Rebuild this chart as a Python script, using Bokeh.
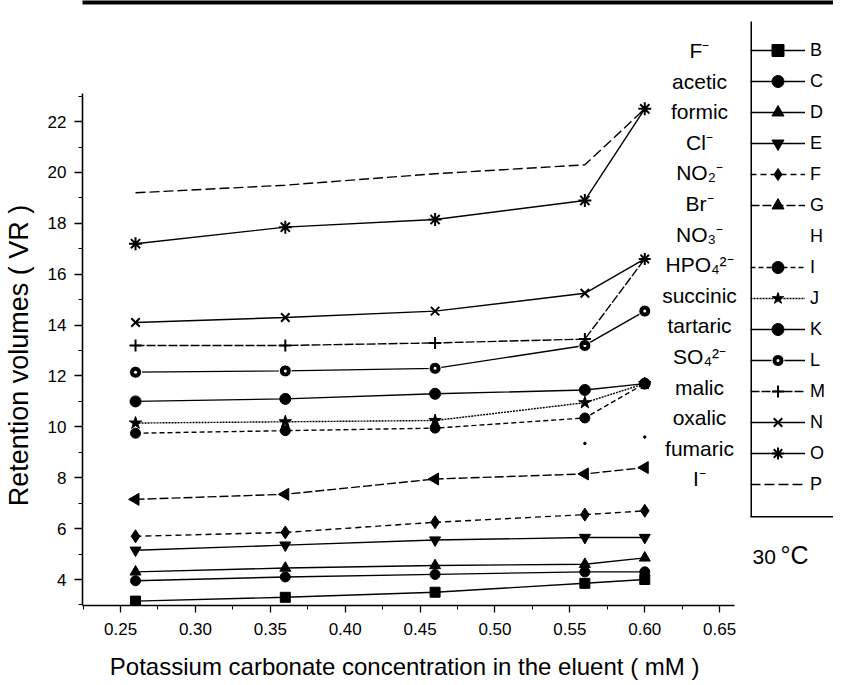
import math
from bokeh.plotting import figure
from bokeh.models import (Range1d, Legend, LegendItem, Label, FixedTicker,
                          NumeralTickFormatter, BoxAnnotation)
from bokeh.embed import file_html
from bokeh.resources import INLINE

# ---------------- data ----------------
conc = [0.26, 0.36, 0.46, 0.56, 0.60]
nan = float("nan")

B_vals = [3.15, 3.30, 3.50, 3.85, 4.00]
C_vals = [3.95, 4.10, 4.20, 4.30, 4.30]
D_vals = [4.30, 4.45, 4.55, 4.60, 4.85]
E_vals = [5.15, 5.35, 5.55, 5.65, 5.65]
F_vals = [5.70, 5.85, 6.25, 6.55, 6.70]
G_vals = [7.15, 7.35, 7.95, 8.15, 8.40]
H_vals = [nan, nan, nan, 9.35, 9.60]
I_vals = [9.75, 9.85, 9.95, 10.35, 11.70]
J_vals = [10.15, 10.20, 10.25, 10.95, 11.70]
K_vals = [11.00, 11.10, 11.30, 11.45, 11.70]
L_vals = [12.15, 12.20, 12.30, 13.20, 14.55]
M_vals = [13.20, 13.20, 13.30, 13.45, 16.60]
N_vals = [14.10, 14.30, 14.55, 15.25, 16.60]
O_vals = [17.20, 17.85, 18.15, 18.90, 22.50]
P_vals = [19.20, 19.50, 19.95, 20.30, 22.50]

series_names = ["B", "C", "D", "E", "F", "G", "H", "I", "J", "K", "L", "M", "N", "O", "P"]
ion_names = ["F⁻", "acetic", "formic", "Cl⁻", "NO₂⁻", "Br⁻", "NO₃⁻", "HPO₄²⁻",
             "succinic", "tartaric", "SO₄²⁻", "malic", "oxalic", "fumaric", "I⁻"]

x_ticks = [0.25, 0.30, 0.35, 0.40, 0.45, 0.50, 0.55, 0.60, 0.65]
x_minor = [0.225, 0.275, 0.325, 0.375, 0.425, 0.475, 0.525, 0.575, 0.625]
y_ticks = [4, 6, 8, 10, 12, 14, 16, 18, 20, 22]
y_minor = [3, 5, 7, 9, 11, 13, 15, 17, 19, 21, 23]

x_axis_span = (0.2246, 0.66)
y_axis_span = (2.978, 23.1)

NB = "\u00a0"

# ---------------- figure ----------------
FONT = "Liberation Sans"
p = figure(frame_width=751, frame_height=605,
           min_border_left=77, min_border_top=0, min_border_right=0, min_border_bottom=79,
           x_range=Range1d(0.2246, 0.7260), y_range=Range1d(2.978, 26.76),
           output_backend="svg", toolbar_location=None)
p.grid.visible = False
p.outline_line_color = None
p.background_fill_color = "white"
p.border_fill_color = "white"

for ax in (p.xaxis[0], p.yaxis[0]):
    ax.axis_line_color = "black"
    ax.axis_line_width = 1.6
    ax.major_tick_in = 0
    ax.minor_tick_in = 0
    ax.major_tick_line_color = "black"
    ax.minor_tick_line_color = "black"
    ax.major_tick_line_width = 1.3
    ax.minor_tick_line_width = 1.0
    ax.major_label_text_font = FONT
    ax.major_label_text_font_size = "17px"
    ax.major_label_text_color = "black"
    ax.axis_label_text_font = FONT
    ax.axis_label_text_font_style = "normal"
    ax.axis_label_text_color = "black"

p.xaxis[0].bounds = x_axis_span
p.xaxis[0].ticker = FixedTicker(ticks=x_ticks, minor_ticks=x_minor)
p.xaxis[0].formatter = NumeralTickFormatter(format="0.00")
p.xaxis[0].major_tick_out = 7
p.xaxis[0].minor_tick_out = 4
p.xaxis[0].major_label_standoff = 10
# trailing no-break spaces move the centred title left, under the drawn axis
p.xaxis[0].axis_label = "Potassium carbonate concentration in the eluent ( mM )" + NB * 16
p.xaxis[0].axis_label_text_font_size = "24px"
p.xaxis[0].axis_label_standoff = 15

p.yaxis[0].bounds = y_axis_span
p.yaxis[0].ticker = FixedTicker(ticks=y_ticks, minor_ticks=y_minor)
p.yaxis[0].major_tick_out = 8
p.yaxis[0].minor_tick_out = 4
p.yaxis[0].major_label_standoff = 8
p.yaxis[0].axis_label = "Retention volumes ( VR )" + NB * 14
p.yaxis[0].axis_label_text_font_size = "27px"
p.yaxis[0].axis_label_standoff = 11

# ---------------- series ----------------
styles = {
    "B": dict(marker="square", size=10, dash="solid"),
    "C": dict(marker="circle", size=10, dash="solid"),
    "D": dict(marker="triangle", size=11, dash="solid"),
    "E": dict(marker="inverted_triangle", size=11, dash="solid"),
    "F": dict(marker="diamond", size=13, dash="6 4"),
    "G": dict(marker="triangle", size=12, dash="9 3", angle=math.pi / 2),
    "I": dict(marker="circle", size=10, dash="5 3"),
    "J": dict(marker="star", size=13, dash="2 1"),
    "K": dict(marker="circle", size=11, dash="solid"),
    "L": dict(marker="circle_dot", size=12, dash="solid"),
    "M": dict(marker="cross", size=12, dash="9 2"),
    "N": dict(marker="x", size=12, dash="solid"),
    "O": dict(marker="asterisk", size=13, dash="solid"),
    "P": dict(marker=None, size=0, dash="10 4"),
}
values = {"B": B_vals, "C": C_vals, "D": D_vals, "E": E_vals, "F": F_vals, "G": G_vals,
          "H": H_vals, "I": I_vals, "J": J_vals, "K": K_vals, "L": L_vals, "M": M_vals,
          "N": N_vals, "O": O_vals, "P": P_vals}

items = []
for name in series_names:
    ys = values[name]
    if name == "H":
        p.scatter(conc, ys, marker="circle", size=2.5, color="black")
        dummy = p.line([], [], line_alpha=0)
        items.append(LegendItem(label="H", renderers=[dummy]))
        continue
    st = styles[name]
    rs = [p.line(conc, ys, line_color="black", line_width=1.4, line_dash=st["dash"])]
    if st["marker"]:
        lw = 2 if st["marker"] in ("cross", "x", "asterisk") else 1
        lc = "white" if st["marker"] == "circle_dot" else "black"
        rs.append(p.scatter(conc, ys, marker=st["marker"], size=st["size"],
                            angle=st.get("angle", 0.0),
                            fill_color="black", line_color=lc, line_width=lw))
    items.append(LegendItem(label=name, renderers=rs))

def screen_box(left, right, bottom, top):
    return BoxAnnotation(left=left, right=right, bottom=bottom, top=top,
                         left_units="screen", right_units="screen",
                         bottom_units="screen", top_units="screen",
                         fill_color="black", fill_alpha=1.0, line_alpha=0)

# frame of the key: only its left and bottom edges fall inside the picture
p.add_layout(screen_box(668, 669.5, 88.5, 584))
p.add_layout(screen_box(668, 1200, 88, 89.5))
# dark scan edge along the top of the page
p.add_layout(screen_box(-200, 1200, 601, 700))

legend = Legend(items=items, location=(668, 106), margin=0, padding=7,
                glyph_width=55, glyph_height=30, label_height=30, spacing=1,
                label_standoff=5, label_width=20,
                label_text_font=FONT, label_text_font_size="18px",
                label_text_color="black",
                border_line_color=None, background_fill_alpha=0.0)
p.add_layout(legend, "center")

# ion names to the left of the key
for i, ion in enumerate(ion_names):
    yref = 50 + 30.6 * i
    p.add_layout(Label(x=617, y=605 - yref, x_units="screen", y_units="screen",
                       text=ion, text_align="center", text_baseline="middle",
                       text_font=FONT, text_font_size="21px", text_color="black"))

p.add_layout(Label(x=670, y=49, x_units="screen", y_units="screen",
                   text="30", text_align="left", text_baseline="middle",
                   text_font=FONT, text_font_size="21px", text_color="black"))
p.add_layout(Label(x=698, y=51, x_units="screen", y_units="screen",
                   text="°C", text_align="left", text_baseline="middle",
                   text_font=FONT, text_font_size="25px", text_color="black"))

open("out.html", "w").write(file_html(p, INLINE))
